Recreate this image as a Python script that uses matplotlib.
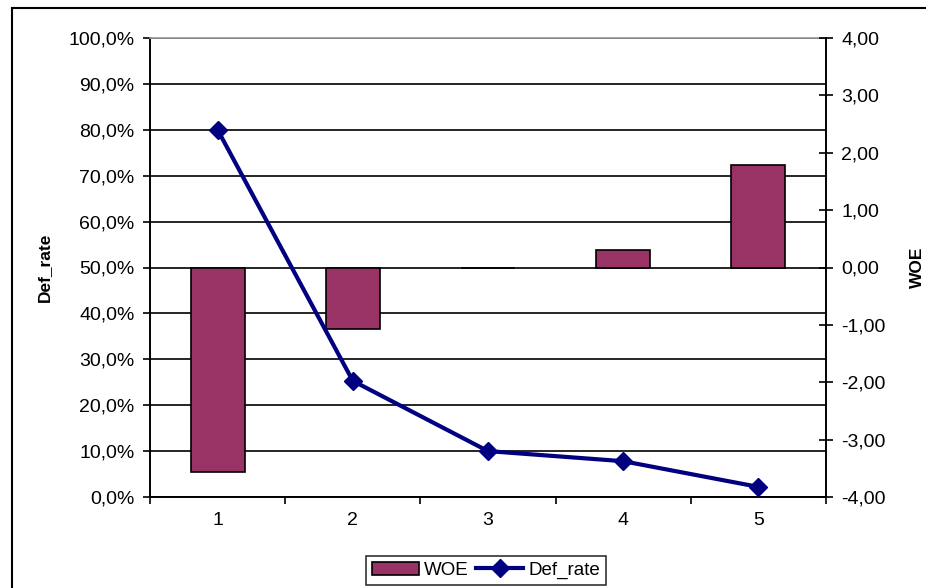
import matplotlib
matplotlib.use('Agg')
import matplotlib.pyplot as plt
from matplotlib.patches import Rectangle
from matplotlib.ticker import FixedLocator, FuncFormatter

plt.rcParams['font.family'] = ['Liberation Sans', 'DejaVu Sans']

groups = [1, 2, 3, 4, 5]
woe = [-3.57, -1.08, 0.0, 0.30, 1.79]
def_rate = [0.800, 0.253, 0.100, 0.078, 0.022]

bar_color = '#993366'
line_color = '#000080'

fig = plt.figure(figsize=(9.26, 5.88), dpi=100)
ax = fig.add_axes([150 / 926, 1 - 497 / 588, 676 / 926, 459 / 588])

# left axis: Def_rate, gridlines
ax.set_xlim(0.5, 5.5)
ax.set_ylim(0, 1)
ax.yaxis.set_major_locator(FixedLocator([i / 10 for i in range(11)]))
ax.yaxis.set_major_formatter(FuncFormatter(lambda v, p: f'{v * 100:.1f}%'.replace('.', ',')))
ax.grid(axis='y', color='black', linewidth=1.2)
ax.set_axisbelow(True)
ax.xaxis.set_major_locator(FixedLocator([0.5, 1.5, 2.5, 3.5, 4.5, 5.5]))
ax.xaxis.set_major_formatter(FuncFormatter(lambda v, p: ''))
ax.xaxis.set_minor_locator(FixedLocator(groups))
ax.xaxis.set_minor_formatter(FuncFormatter(lambda v, p: f'{int(v)}'))
ax.tick_params(axis='x', which='major', direction='out', length=5, width=1.2)
ax.tick_params(axis='x', which='minor', length=0, pad=11, labelsize=14)
ax.tick_params(axis='y', direction='out', length=5, width=1.2, pad=6, labelsize=14)
ax.set_ylabel('Def_rate', fontsize=12.5, fontweight='bold')
ax.yaxis.set_label_coords(-0.145, 0.5)
for s in ['left', 'bottom']:
    ax.spines[s].set_linewidth(1.4)
ax.spines['top'].set_color('#999999')
ax.spines['top'].set_linewidth(1.2)
ax.spines['right'].set_visible(False)

# right axis: WOE bars
ax2 = ax.twinx()
ax2.set_ylim(-4, 4)
bars = ax2.bar(groups, woe, width=0.4, color=bar_color, edgecolor='black', linewidth=1.2, label='WOE')
ax2.yaxis.set_major_locator(FixedLocator(range(-4, 5)))
ax2.yaxis.set_major_formatter(FuncFormatter(lambda v, p: f'{v:.2f}'.replace('.', ',')))
ax2.tick_params(axis='y', direction='inout', length=10, width=1.2, pad=6, labelsize=14)
ax2.set_ylabel('WOE', fontsize=12.5, fontweight='bold')
ax2.yaxis.set_label_coords(1.124, 0.5)
ax2.spines['right'].set_linewidth(1.4)
for s in ['top', 'left', 'bottom']:
    ax2.spines[s].set_visible(False)

# line on top
ax3 = ax.twinx()
ax3.set_ylim(0, 1)
ax3.axis('off')
line, = ax3.plot(groups, def_rate, color=line_color, linewidth=3, marker='D',
                 markersize=9, label='Def_rate', clip_on=False)

leg = fig.legend([bars, line], ['WOE', 'Def_rate'], loc='upper center',
                 bbox_to_anchor=(0.525, 1 - 556 / 588), borderaxespad=0, ncol=2, fontsize=13.5,
                 frameon=True, fancybox=False, edgecolor='black', handlelength=2.5,
                 handletextpad=0.3, columnspacing=0.4, borderpad=0.3)
leg.get_frame().set_linewidth(1.2)

fig.patches.append(Rectangle((12 / 926, -0.05), 1.0, 1.05 - 8 / 588, transform=fig.transFigure,
                             fill=False, edgecolor='black', linewidth=1.5))

fig.savefig('out.png', dpi=100)
